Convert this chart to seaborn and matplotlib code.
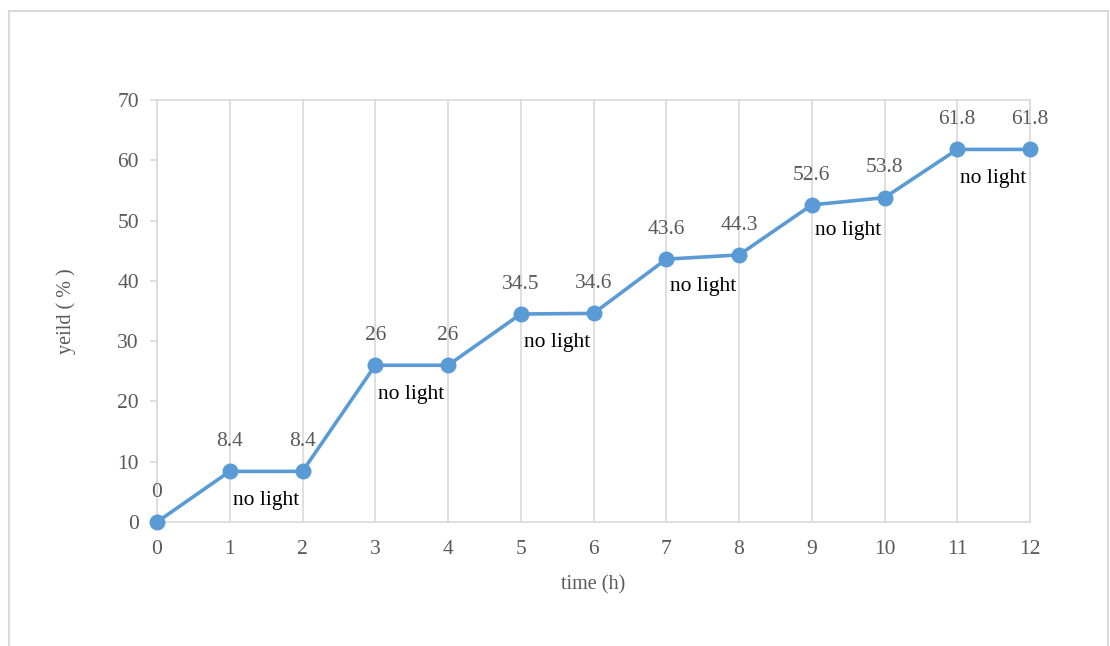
import matplotlib
matplotlib.use("Agg")
import matplotlib.pyplot as plt
import seaborn as sns
import pandas as pd
from matplotlib.patches import Rectangle

hours = [0, 1, 2, 3, 4, 5, 6, 7, 8, 9, 10, 11, 12]
yield_pct = [0, 8.4, 8.4, 26, 26, 34.5, 34.6, 43.6, 44.3, 52.6, 53.8, 61.8, 61.8]
value_labels = ["0", "8.4", "8.4", "26", "26", "34.5", "34.6", "43.6", "44.3", "52.6", "53.8", "61.8", "61.8"]
# dark intervals: (start hour, end hour)
dark_intervals = [(1, 2), (3, 4), (5, 6), (7, 8), (9, 10), (11, 12)]
dark_text = "no light"
x_ticks = list(range(0, 13))
y_ticks = [0, 10, 20, 30, 40, 50, 60, 70]

sns.set_theme(style="white")
plt.rcParams["font.family"] = ["Liberation Serif", "DejaVu Serif"]

grid_c = "#D9D9D9"
text_c = "#595959"
line_c = "#5B9BD5"

fig = plt.figure(figsize=(11.1, 6.46), dpi=100)
ax = fig.add_axes([157 / 1110, 1 - 522 / 646, (1030 - 157) / 1110, (522 - 100) / 646])

df = pd.DataFrame({"time": hours, "yield": yield_pct})
sns.lineplot(data=df, x="time", y="yield", ax=ax, color=line_c, linewidth=2.6,
             marker="o", markersize=11.5, markeredgewidth=0, markerfacecolor=line_c,
             zorder=3, clip_on=False)

ax.set_xlim(0, 12)
ax.set_ylim(0, 70)
ax.set_xticks(x_ticks)
ax.set_yticks(y_ticks)
ax.xaxis.grid(True, color=grid_c, linewidth=1.2)
ax.yaxis.grid(False)
for s in ax.spines.values():
    s.set_color(grid_c)
    s.set_linewidth(1.2)
ax.tick_params(axis="y", which="both", left=True, length=5, width=1.2, color=grid_c,
               labelsize=15.5, labelcolor=text_c, pad=8)
ax.tick_params(axis="x", which="both", bottom=False, labelsize=15.5, labelcolor=text_c, pad=7)

ax.set_xlabel("time (h)", fontsize=14.5, color=text_c, labelpad=12)
ax.set_ylabel("yeild ( % )", fontsize=14.5, color=text_c, labelpad=30)

for x, y, lab in zip(hours, yield_pct, value_labels):
    ax.annotate(lab, (x, y), xytext=(0, 21.5), textcoords="offset points",
                ha="center", va="center", fontsize=15.5, color=text_c)

for a, b in dark_intervals:
    ya = yield_pct[hours.index(a)]
    yb = yield_pct[hours.index(b)]
    ax.annotate(dark_text, ((a + b) / 2, (ya + yb) / 2), xytext=(0, -21),
                textcoords="offset points", ha="center", va="center",
                fontsize=15.5, color="black")

# chart frame
fig.patches.append(Rectangle((9 / 1110, -0.05), (1108 - 9) / 1110, 1 - 11 / 646 + 0.05,
                             transform=fig.transFigure, fill=False,
                             edgecolor=grid_c, linewidth=1.5))

fig.savefig("out.png", dpi=100)
